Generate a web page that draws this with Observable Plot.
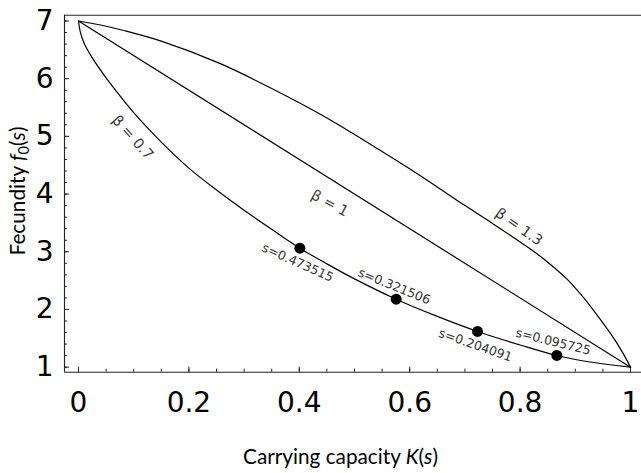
<!DOCTYPE html>
<html><head><meta charset="utf-8">
<script src="https://cdn.jsdelivr.net/npm/d3@7"></script>
<script src="https://cdn.jsdelivr.net/npm/@observablehq/plot@0.6"></script>
<style>body{margin:0;background:#fff}#chart{width:641px;height:473px}</style>
</head><body><div id="chart"></div>
<script>
// ---- data ----
const xTicks = [0, 0.2, 0.4, 0.6, 0.8, 1];
const xTickLabels = ["0", "0.2", "0.4", "0.6", "0.8", "1"];
const yTicks = [1, 2, 3, 4, 5, 6, 7];
const yTickLabels = ["1", "2", "3", "4", "5", "6", "7"];

const beta07K = [0, 0.003, 0.01, 0.025, 0.045, 0.067, 0.1, 0.15, 0.2, 0.25, 0.3, 0.35, 0.401, 0.45, 0.5, 0.5755, 0.65, 0.7228, 0.8, 0.8665, 0.93, 1];
const beta07F = [7, 6.82, 6.62, 6.36, 6.08, 5.8, 5.41, 4.9, 4.45, 4.07, 3.72, 3.39, 3.062, 2.79, 2.53, 2.178, 1.88, 1.619, 1.385, 1.203, 1.085, 1];
const beta10K = [0, 1];
const beta10F = [7, 1];
const beta13K = [0, 0.04, 0.082, 0.15, 0.257, 0.35, 0.45, 0.547, 0.62, 0.686, 0.71, 0.75, 0.8, 0.83, 0.855, 0.885, 0.91, 0.935, 0.964, 0.985, 1];
const beta13F = [7, 6.93, 6.835, 6.65, 6.26, 5.83, 5.32, 4.756, 4.315, 3.89, 3.74, 3.49, 3.17, 2.97, 2.78, 2.525, 2.26, 1.96, 1.58, 1.265, 1];

const dotK = [0.401, 0.5755, 0.7228, 0.8665];
const dotF = [3.062, 2.178, 1.619, 1.203];
const dotLabels = ["s=0.473515", "s=0.321506", "s=0.204091", "s=0.095725"];
const dotLabelK = [0.397, 0.572, 0.719, 0.860];
const dotLabelF = [2.81, 2.40, 1.38, 1.44];
const dotLabelAngle = [24, 22, 19, 14];

const betaLabels = ["β = 0.7", "β = 1", "β = 1.3"];
const betaLabelK = [0.098, 0.455, 0.798];
const betaLabelF = [4.98, 3.84, 3.43];
const betaLabelAngle = [48, 28, 35];

const xDomain = [-0.02536, 1.0199];
const yDomain = [0.913, 7.10];

// ---- layout ----
const W = 641, H = 473, mL = 64, mR = 0, mT = 14.7, mB = 101.3;
const xPerPx = (xDomain[1] - xDomain[0]) / (W - mL - mR);
const yPerPx = (yDomain[1] - yDomain[0]) / (H - mT - mB);

// ---- build tables ----
const curves = [
  ...beta07K.map((k, i) => ({K: k, F: beta07F[i], b: "0.7"})),
  ...beta10K.map((k, i) => ({K: k, F: beta10F[i], b: "1"})),
  ...beta13K.map((k, i) => ({K: k, F: beta13F[i], b: "1.3"}))
];
const dots = dotK.map((k, i) => ({K: k, F: dotF[i]}));
const dotText = dotLabels.map((t, i) => ({t, K: dotLabelK[i], F: dotLabelF[i], a: dotLabelAngle[i]}));
const betaText = betaLabels.map((t, i) => ({t, K: betaLabelK[i], F: betaLabelF[i], a: betaLabelAngle[i]}));
const xMinor = d3.range(0, 21).map(i => i / 20);
const yMinor = d3.range(0, 31).map(i => 1 + i / 5);

const tickStroke = {stroke: "#222", strokeWidth: 1};
const chart = Plot.plot({
  width: W, height: H,
  marginLeft: mL, marginRight: mR, marginTop: mT, marginBottom: mB,
  x: {domain: xDomain},
  y: {domain: yDomain},
  style: {fontFamily: "'DejaVu Sans', sans-serif", fontSize: "28px", background: "#fff", color: "#000"},
  marks: [
    // frame (top, left, bottom)
    Plot.ruleY([yDomain[0], yDomain[1]], {stroke: "#222", strokeWidth: 1.1}),
    Plot.ruleX([xDomain[0]], {stroke: "#222", strokeWidth: 1.1}),
    // inward ticks
    Plot.ruleX(xMinor, {x: d => d, y1: yDomain[0], y2: yDomain[0] + 3 * yPerPx, ...tickStroke}),
    Plot.ruleX(xTicks, {x: d => d, y1: yDomain[0], y2: yDomain[0] + 5 * yPerPx, ...tickStroke}),
    Plot.ruleY(yMinor, {y: d => d, x1: xDomain[0], x2: xDomain[0] + 3 * xPerPx, ...tickStroke}),
    Plot.ruleY(yTicks, {y: d => d, x1: xDomain[0], x2: xDomain[0] + 5 * xPerPx, ...tickStroke}),
    // tick labels
    Plot.axisX(xTicks, {tickSize: 0, tickPadding: 20, fontSize: 28, label: null,
      tickFormat: d => xTickLabels[xTicks.indexOf(d)]}),
    Plot.axisY(yTicks, {tickSize: 0, tickPadding: 11, fontSize: 28, label: null,
      tickFormat: d => yTickLabels[yTicks.indexOf(d)]}),
    // curves
    Plot.line(curves, {x: "K", y: "F", z: "b", curve: "catmull-rom", stroke: "#000", strokeWidth: 1.2}),
    Plot.dot(dots, {x: "K", y: "F", r: 5.5, fill: "#000"}),
    Plot.text(dotText, {x: "K", y: "F", text: "t", rotate: "a", fontSize: 12.5, fill: "#333",
      fontFamily: "'DejaVu Sans', sans-serif"}),
    Plot.text(betaText, {x: "K", y: "F", text: "t", rotate: "a", fontSize: 14.5, fill: "#3a3a3a",
      fontFamily: "'DejaVu Sans', sans-serif"})
  ]
});
document.getElementById("chart").appendChild(chart);

// axis titles with italic / subscript parts
const svg = d3.select(chart);
const titleFont = "Lato, 'Open Sans', sans-serif";
const xt = svg.append("text").attr("x", 340.5).attr("y", 464).attr("text-anchor", "middle")
  .style("font-family", titleFont).style("font-size", "20px").attr("fill", "#000");
xt.append("tspan").text("Carrying capacity ");
xt.append("tspan").style("font-style", "italic").text("K");
xt.append("tspan").text("(");
xt.append("tspan").style("font-style", "italic").text("s");
xt.append("tspan").text(")");
const xw = xt.node().getComputedTextLength();
const titleSize = 20 * 195 / xw;
xt.style("font-size", titleSize + "px");

const yt = svg.append("text").attr("transform", "translate(25,191) rotate(-90)").attr("text-anchor", "middle")
  .style("font-family", titleFont).style("font-size", titleSize + "px").attr("fill", "#000");
yt.append("tspan").text("Fecundity ");
yt.append("tspan").style("font-style", "italic").text("f");
yt.append("tspan").attr("baseline-shift", "-25%").style("font-size", "70%").text("0");
yt.append("tspan").text("(");
yt.append("tspan").style("font-style", "italic").text("s");
yt.append("tspan").text(")");
</script>
</body></html>
